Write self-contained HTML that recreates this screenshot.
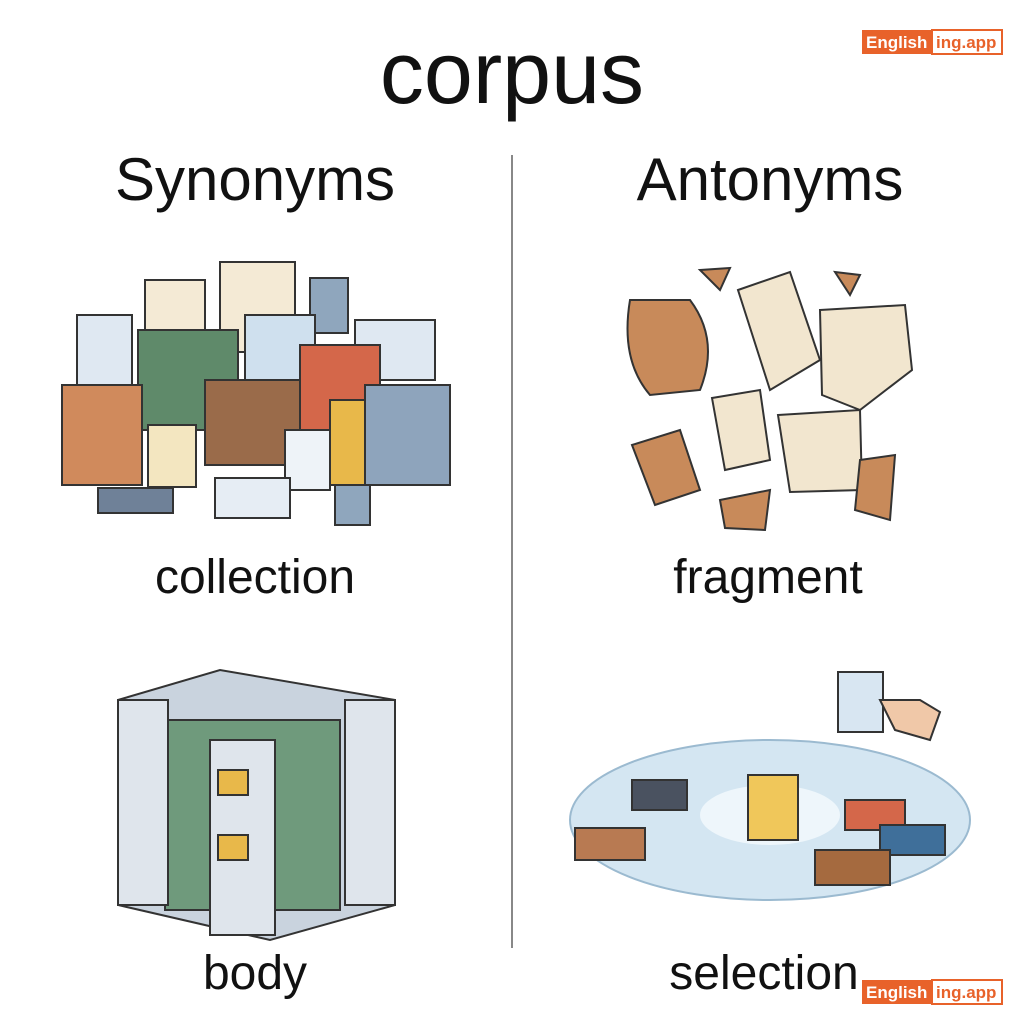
<!DOCTYPE html>
<html><head><meta charset="utf-8"><style>
html,body{margin:0;padding:0;background:#fff;width:1024px;height:1024px;overflow:hidden;position:relative;font-family:"Liberation Sans",sans-serif;color:#111}
.t{position:absolute;text-align:center;white-space:nowrap}
</style></head><body>
<div class="t" style="left:0;width:1024px;top:22px;font-size:88px;">corpus</div>
<div class="t" style="left:55px;width:400px;top:145px;font-size:60px;">Synonyms</div>
<div class="t" style="left:570px;width:400px;top:145px;font-size:60px;">Antonyms</div>
<div style="position:absolute;left:511px;top:155px;width:2px;height:793px;background:#888"></div>
<div class="t" style="left:55px;width:400px;top:550px;font-size:48px;">collection</div>
<div class="t" style="left:568px;width:400px;top:550px;font-size:48px;">fragment</div>
<div class="t" style="left:55px;width:400px;top:946px;font-size:48px;">body</div>
<div class="t" style="left:564px;width:400px;top:946px;font-size:48px;">selection</div>

<svg width="1024" height="1024" style="position:absolute;left:0;top:0" xmlns="http://www.w3.org/2000/svg">
<g stroke="#333" stroke-width="2">
<rect x="145" y="280" width="60" height="70" fill="#f4ead5"/>
<rect x="220" y="262" width="75" height="90" fill="#f4ead5"/>
<rect x="310" y="278" width="38" height="55" fill="#8fa6bd"/>
<rect x="77" y="315" width="55" height="70" fill="#dfe8f2"/>
<rect x="245" y="315" width="70" height="75" fill="#cfe0ee"/>
<rect x="355" y="320" width="80" height="60" fill="#dfe8f2"/>
<rect x="138" y="330" width="100" height="100" fill="#5f8a6a"/>
<rect x="300" y="345" width="80" height="90" fill="#d4674a"/>
<rect x="62" y="385" width="80" height="100" fill="#d08a5c"/>
<rect x="205" y="380" width="95" height="85" fill="#9a6b4a"/>
<rect x="148" y="425" width="48" height="62" fill="#f3e6c0"/>
<rect x="285" y="430" width="45" height="60" fill="#eef3f8"/>
<rect x="330" y="400" width="60" height="85" fill="#e8b84a"/>
<rect x="365" y="385" width="85" height="100" fill="#8ea4bc"/>
<rect x="98" y="488" width="75" height="25" fill="#6f8198"/>
<rect x="215" y="478" width="75" height="40" fill="#e6edf4"/>
<rect x="335" y="485" width="35" height="40" fill="#8fa6bd"/>
<path d="M630 300 Q620 360 650 395 L700 390 Q720 340 690 300 Z" fill="#c88a5a"/>
<path d="M738 290 L790 272 L820 360 L770 390 Z" fill="#f2e6cf"/>
<path d="M820 310 L905 305 L912 370 L860 410 L822 395 Z" fill="#f2e6cf"/>
<path d="M712 398 L760 390 L770 460 L725 470 Z" fill="#f2e6cf"/>
<path d="M778 415 L860 410 L862 490 L790 492 Z" fill="#f2e6cf"/>
<path d="M632 445 L680 430 L700 490 L655 505 Z" fill="#c88a5a"/>
<path d="M860 460 L895 455 L890 520 L855 510 Z" fill="#c88a5a"/>
<path d="M720 500 L770 490 L765 530 L725 528 Z" fill="#c88a5a"/>
<path d="M835 272 L860 275 L850 295 Z" fill="#c88a5a"/>
<path d="M700 270 L730 268 L720 290 Z" fill="#c88a5a"/>
<path d="M118 700 L220 670 L395 700 L395 905 L270 940 L118 905 Z" fill="#c9d3de"/>
<rect x="165" y="720" width="175" height="190" fill="#6f9a7c"/>
<rect x="210" y="740" width="65" height="195" fill="#dfe5ec"/>
<rect x="118" y="700" width="50" height="205" fill="#dfe5ec"/>
<rect x="345" y="700" width="50" height="205" fill="#dfe5ec"/>
<rect x="218" y="770" width="30" height="25" fill="#e8b84a"/>
<rect x="218" y="835" width="30" height="25" fill="#e8b84a"/>
<ellipse cx="770" cy="820" rx="200" ry="80" fill="#d4e6f2" stroke="#9bbad0"/>
<ellipse cx="770" cy="815" rx="70" ry="30" fill="#eef6fb" stroke="none"/>
<rect x="748" y="775" width="50" height="65" fill="#f0c75a"/>
<rect x="632" y="780" width="55" height="30" fill="#4a5260"/>
<rect x="575" y="828" width="70" height="32" fill="#b87a52"/>
<rect x="845" y="800" width="60" height="30" fill="#d4674a"/>
<rect x="880" y="825" width="65" height="30" fill="#3f6f9a"/>
<rect x="815" y="850" width="75" height="35" fill="#a56a3f"/>
<rect x="838" y="672" width="45" height="60" fill="#d8e6f2"/>
<path d="M880 700 L920 700 L940 712 L930 740 L895 730 Z" fill="#f0c8a8"/>
</g>
<g font-family="Liberation Sans, sans-serif" font-size="17" font-weight="bold">
<rect x="862" y="30" width="70" height="24" fill="#e8622a"/>
<rect x="932" y="30" width="70" height="24" fill="#fff" stroke="#e8622a" stroke-width="2"/>
<text x="866" y="48" fill="#fff">English</text><text x="936" y="48" fill="#e8622a">ing.app</text>
<rect x="862" y="980" width="70" height="24" fill="#e8622a"/>
<rect x="932" y="980" width="70" height="24" fill="#fff" stroke="#e8622a" stroke-width="2"/>
<text x="866" y="998" fill="#fff">English</text><text x="936" y="998" fill="#e8622a">ing.app</text>
</g>
</svg>
</body></html>
